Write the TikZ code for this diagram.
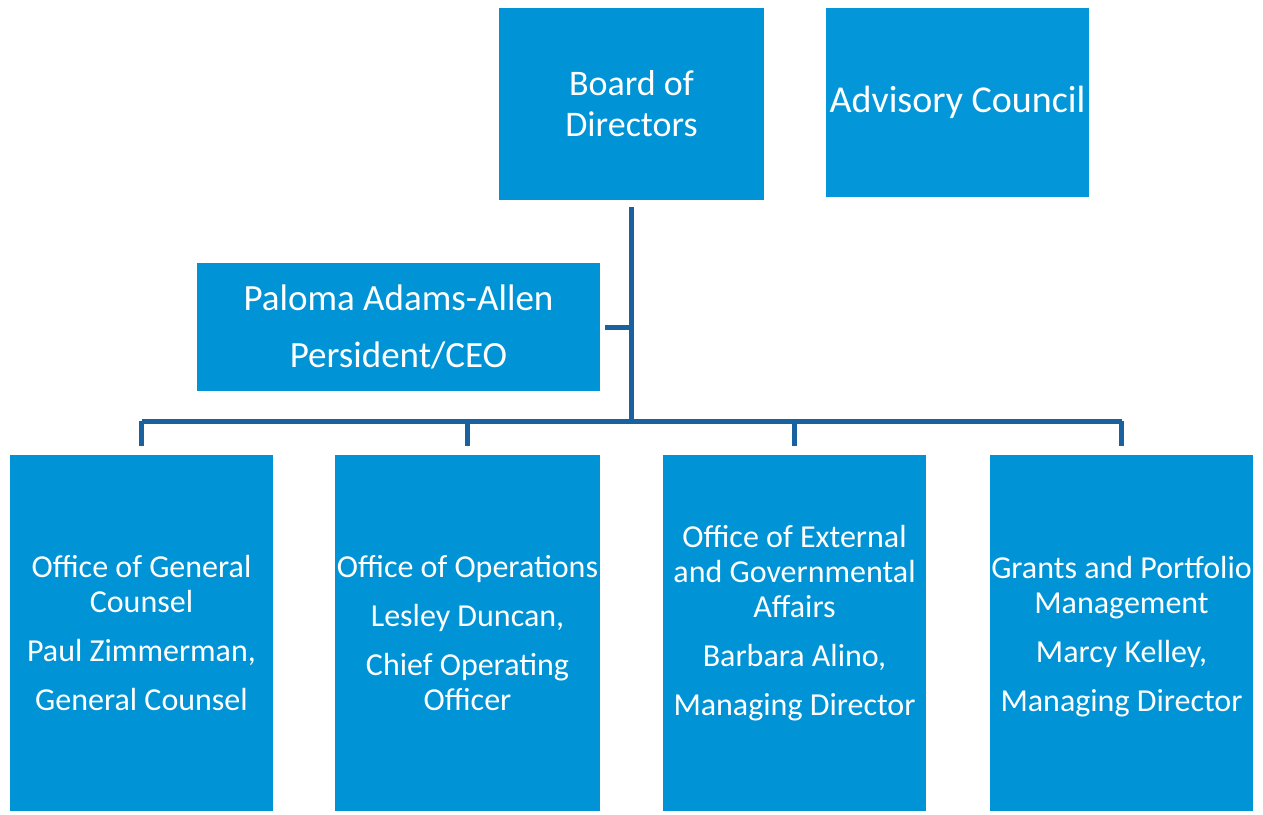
\documentclass[tikz,border=0pt]{standalone}
\usepackage{fontspec}
\setmainfont{Carlito}
\definecolor{boxblue}{HTML}{0094D6}
\definecolor{advblue}{HTML}{0397D9}
\definecolor{linkblue}{HTML}{1A619F}
\tikzset{
  orgbox/.style={rectangle, fill=boxblue, draw=none, inner sep=0pt, text=white, align=center},
  bottomtext/.style={text=white, align=center, inner sep=0pt, font=\fontsize{32}{35}\selectfont},
  link/.style={draw=linkblue, line width=5pt}
}
\begin{document}
\begin{tikzpicture}[x=1pt,y=-1pt]
\useasboundingbox (0,0) rectangle (1263,814);
% top boxes
\node[orgbox, minimum width=265pt, minimum height=192pt, font=\fontsize{36}{41}\selectfont] (board) at (631.5,104) {Board of\\Directors};
\node[orgbox, fill=advblue, minimum width=263pt, minimum height=189pt, font=\fontsize{38}{41}\selectfont] (adv) at (957.5,102.5) {Advisory Council};
\node[orgbox, minimum width=403pt, minimum height=128pt, font=\fontsize{37}{57}\selectfont] (ceo) at (398.5,327) {Paloma Adams-Allen\\Persident/CEO};
% bottom boxes
\node[orgbox, minimum width=263pt, minimum height=356pt] (b1) at (141.5,633) {};
\node[orgbox, minimum width=265pt, minimum height=356pt] (b2) at (467.5,633) {};
\node[orgbox, minimum width=263pt, minimum height=356pt] (b3) at (794.5,633) {};
\node[orgbox, minimum width=263pt, minimum height=356pt] (b4) at (1121.5,633) {};
\node[bottomtext] (t1) at (b1.center) {Office of General\\Counsel\\[14pt]Paul Zimmerman,\\[14pt]General Counsel};
\node[bottomtext] (t2) at (b2.center) {Office of Operations\\[14pt]Lesley Duncan,\\[14pt]Chief Operating\\Officer};
\node[bottomtext] (t3) at ([yshift=10pt]b3.center) {Office of External\\and Governmental\\Affairs\\[14pt]Barbara Alino,\\[14pt]Managing Director};
\node[bottomtext] (t4) at ([yshift=-4pt]b4.center) {Grants and Portfolio\\Management\\[14pt]Marcy Kelley,\\[14pt]Managing Director};
% connectors
\coordinate (bus) at (board.south |- 0,421);
\coordinate (tick) at (board.south |- ceo.east);
\draw[link] ([yshift=-7pt]board.south) -- (bus);
\draw[link] ([xshift=5pt]ceo.east) -- (tick);
\draw[link] (b1.north |- bus) -- (b4.north |- bus);
\foreach \b in {b1,b2,b3,b4}{
  \draw[link] (\b.north |- bus) -- ([yshift=9pt]\b.north);
}
\end{tikzpicture}
\end{document}
